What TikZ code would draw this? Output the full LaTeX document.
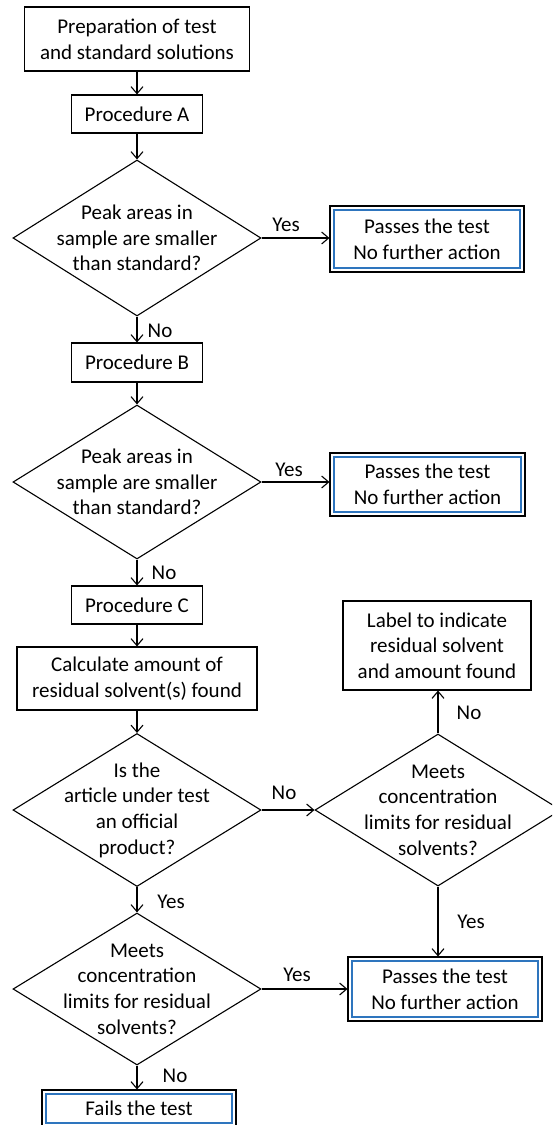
\documentclass[tikz,border=0pt]{standalone}
\usepackage{fontspec}
\setmainfont{Carlito}
\usetikzlibrary{arrows.meta,shapes.geometric}
\definecolor{passblue}{RGB}{46,117,190}
\begin{document}
\begin{tikzpicture}[x=1pt,y=-1pt,
  every node/.style={font=\fontsize{21}{25.7}\selectfont, inner sep=0pt},
  proc/.style={draw, line width=1.1pt, rectangle, align=center},
  dec/.style={draw, line width=1.1pt, diamond, inner sep=0pt, minimum width=248pt, minimum height=154pt},
  dtext/.style={align=center, font=\fontsize{21}{25.7}\selectfont},
  endbox/.style={proc, path picture={\draw[passblue, line width=2.2pt]
      ([shift={(4pt,-4pt)}]path picture bounding box.north west) rectangle
      ([shift={(-4pt,4pt)}]path picture bounding box.south east);}},
  arr/.style={line width=1.1pt, -{Straight Barb[length=7pt,width=12pt]}},
  lbl/.style={anchor=center}]
\useasboundingbox (0,0) rectangle (552,1125);
\clip (0,0) rectangle (552,1125);
% left column
\node[proc, minimum width=225pt, minimum height=64pt] (prep) at (137,39) {Preparation of test\\and standard solutions};
\node[proc, minimum width=131pt, minimum height=38pt] (pa) at (137,114) {Procedure A};
\node[dec, minimum height=156pt, label={[dtext]center:{Peak areas in\\sample are smaller\\than standard?}}] (d1) at (137,238) {};
\node[endbox, minimum width=194pt, minimum height=66pt] (p1) at (427,239) {Passes the test\\No further action};
\node[proc, minimum width=131pt, minimum height=39pt] (pb) at (137,362.5) {Procedure B};
\node[dec, label={[dtext]center:{Peak areas in\\sample are smaller\\than standard?}}] (d2) at (137,482) {};
\node[endbox, minimum width=195pt, minimum height=63pt] (p2) at (427.5,484.5) {Passes the test\\No further action};
\node[proc, minimum width=131pt, minimum height=38pt] (pc) at (137,605) {Procedure C};
\node[proc, minimum width=240pt, minimum height=63pt] (calc) at (137,678.5) {Calculate amount of\\residual solvent(s) found};
\node[dec, minimum height=153pt, label={[dtext]center:{Is the\\article under test\\an official\\product?}}] (d3) at (137,810) {};
\node[dec, minimum width=246pt, minimum height=152pt, label={[dtext]center:{Meets\\concentration\\limits for residual\\solvents?}}] (d4r) at (438,810) {};
\node[proc, minimum width=188pt, minimum height=89pt] (lab) at (437,645.5) {Label to indicate\\residual solvent\\and amount found};
\node[endbox, minimum width=194pt, minimum height=64pt] (p3) at (445,989) {Passes the test\\No further action};
\node[dec, minimum height=152pt, label={[dtext]center:{Meets\\concentration\\limits for residual\\solvents?}}] (d4) at (137,989) {};
\node[endbox, minimum width=194pt, minimum height=37pt] (fails) at (139,1108.5) {Fails the test};
% connectors
\draw[arr] (prep) -- (pa);
\draw[arr] (pa) -- (d1);
\draw[arr] (d1.east) -- (d1.east -| p1.west);
\draw[arr] (d1) -- (pb);
\draw[arr] (pb) -- (d2);
\draw[arr] (d2.east) -- (d2.east -| p2.west);
\draw[arr] (d2) -- (pc);
\draw[arr] (pc) -- (calc);
\draw[arr] (calc) -- (d3);
\draw[arr] (d3.east) -- (d4r.west);
\draw[arr] (d4r.north) -- (d4r.north |- lab.south);
\draw[arr] (d4r.south) -- (d4r.south |- p3.north);
\draw[arr] (d3) -- (d4);
\draw[arr] (d4.east) -- (d4.east -| p3.west);
\draw[arr] (d4.south) -- (d4.south |- fails.north);
% labels
\node[lbl] (y1) at (286,225) {Yes};
\node[lbl] (n1) at (160,331) {No};
\node[lbl] (y2) at (289,470) {Yes};
\node[lbl] (n2) at (164,573) {No};
\node[lbl] (n3) at (284,793) {No};
\node[lbl] (n4) at (469,713) {No};
\node[lbl] (y3) at (471,922) {Yes};
\node[lbl] (y4) at (171,902) {Yes};
\node[lbl] (y5) at (297,975) {Yes};
\node[lbl] (n5) at (175,1076) {No};
\end{tikzpicture}
\end{document}
